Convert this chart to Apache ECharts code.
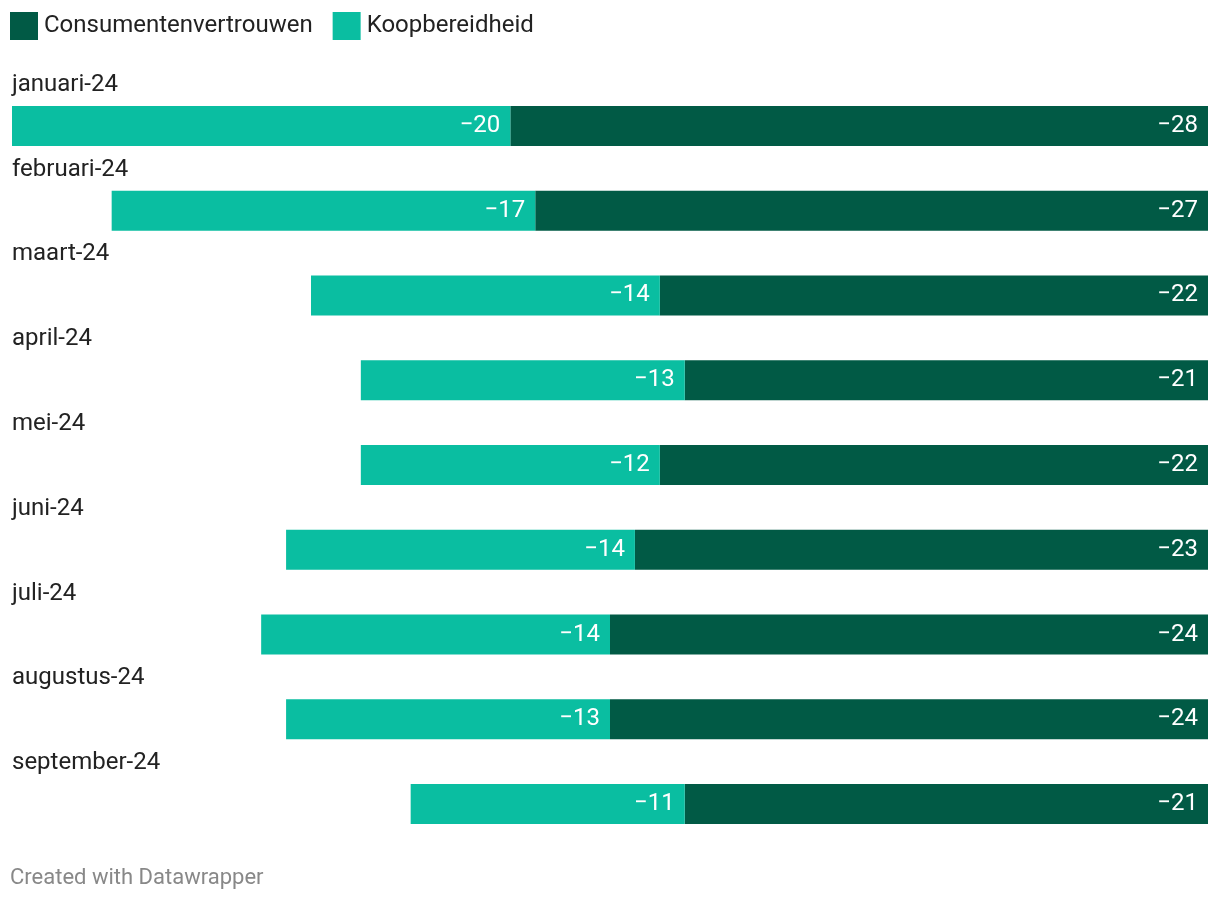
<!DOCTYPE html>
<html>
<head>
<meta charset="utf-8">
<script src="https://cdn.jsdelivr.net/npm/echarts@6/dist/echarts.min.js"></script>
<style>
html,body{margin:0;padding:0;background:#fff;}
#chart{width:1220px;height:900px;}
</style>
</head>
<body>
<div id="chart"></div>
<script>
const categories = ['januari-24','februari-24','maart-24','april-24','mei-24','juni-24','juli-24','augustus-24','september-24'];
const consumentenvertrouwen = [-28,-27,-22,-21,-22,-23,-24,-24,-21];
const koopbereidheid = [-20,-17,-14,-13,-12,-14,-14,-13,-11];
const seriesNames = ['Consumentenvertrouwen','Koopbereidheid'];

const chart = echarts.init(document.getElementById('chart'));
const fmt = p => '\u2212' + Math.abs(p.value);
const labelCfg = {
  show: true, position: 'insideRight', distance: 10, formatter: fmt,
  color: '#fff', fontFamily: 'Roboto', fontSize: 24, padding: [4,0,0,0]
};
chart.setOption({
  animation: false,
  textStyle: {fontFamily: 'Roboto'},
  legend: {
    left: 10, top: 12, padding: 0, itemWidth: 28, itemHeight: 28, itemGap: 20,
    icon: 'rect',
    textStyle: {fontSize: 24, color: '#222', padding: [4,0,0,1]},
    data: seriesNames
  },
  grid: {left: 12, right: 12, top: 83.6, bottom: 900 - 846.4, containLabel: false},
  xAxis: {
    type: 'value', min: -48, max: 0, show: false
  },
  yAxis: {
    type: 'category', data: categories, inverse: true, position: 'left',
    axisLine: {show: false}, axisTick: {show: false}, splitLine: {show: false},
    axisLabel: {
      inside: true, margin: 0, align: 'left', verticalAlign: 'middle',
      formatter: v => '{n|' + v + '}\n{s| }',
      rich: {
        n: {fontSize: 24, lineHeight: 28, color: '#222', fontFamily: 'Roboto'},
        s: {fontSize: 10, lineHeight: 82}
      }
    }
  },
  series: [
    {name: seriesNames[0], type: 'bar', stack: 'a', data: consumentenvertrouwen,
     barWidth: 40, itemStyle: {color: '#015a45'}, label: labelCfg},
    {name: seriesNames[1], type: 'bar', stack: 'a', data: koopbereidheid,
     barWidth: 40, itemStyle: {color: '#0abea1'}, label: labelCfg}
  ],
  graphic: [{
    type: 'text', left: 10, top: 867,
    style: {text: 'Created with Datawrapper', fill: '#888', font: '22px Roboto'}
  }]
});
</script>
</body>
</html>
